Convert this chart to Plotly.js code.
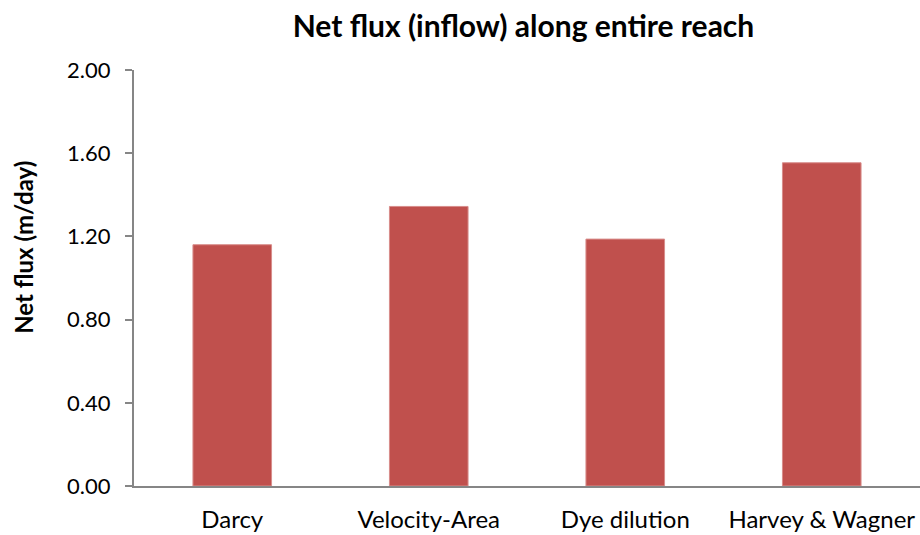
<!DOCTYPE html>
<html>
<head>
<meta charset="utf-8">
<script src="https://cdn.plot.ly/plotly-3.0.1.min.js"></script>
<style>html,body{margin:0;padding:0;background:#fff;}#chart{width:920px;height:535px;}</style>
</head>
<body>
<div id="chart"></div>
<script>
const categories = ["Darcy", "Velocity-Area", "Dye dilution", "Harvey & Wagner"];
const netFlux = [1.16, 1.344, 1.187, 1.554];
const yTicks = [0, 0.4, 0.8, 1.2, 1.6, 2.0];
const yTickLabels = ["0.00", "0.40", "0.80", "1.20", "1.60", "2.00"];
const titleText = "Net flux (inflow) along entire reach";
const yTitleText = "Net flux (m/day)";

const FONT = "Lato, 'Open Sans', sans-serif";

Plotly.newPlot("chart", [{
  type: "bar",
  x: categories,
  y: netFlux,
  marker: {color: "#C0504D", line: {color: "#D88D8B", width: 1}},
  hoverinfo: "x+y"
}], {
  width: 920, height: 535,
  margin: {l: 134, r: 0, t: 70, b: 49},
  paper_bgcolor: "#fff", plot_bgcolor: "#fff",
  bargap: 0.6,
  showlegend: false,
  title: {text: "<b>" + titleText + "</b>", x: 0.569, xanchor: "center", y: 0.95, yanchor: "middle",
          font: {family: FONT, size: 30, color: "#000"}},
  xaxis: {
    type: "category",
    showline: true, linecolor: "#868686", linewidth: 2,
    ticks: "", showgrid: false, zeroline: false,
    tickfont: {family: FONT, size: 24, color: "#000"},
    ticklabelstandoff: 11
  },
  yaxis: {
    range: [0, 2.0],
    tickvals: yTicks, ticktext: yTickLabels,
    showline: true, linecolor: "#868686", linewidth: 2,
    ticks: "outside", ticklen: 7, tickwidth: 2, tickcolor: "#868686",
    showgrid: false, zeroline: false,
    tickfont: {family: FONT, size: 22, color: "#000"},
    ticklabelstandoff: 10
  },
  annotations: [{
    text: "<b>" + yTitleText + "</b>",
    xref: "paper", yref: "paper",
    x: -0.14, y: 0.575, xanchor: "center", yanchor: "middle",
    textangle: -90, showarrow: false,
    font: {family: FONT, size: 24, color: "#000"}
  }]
}, {displayModeBar: false, staticPlot: true});
</script>
</body>
</html>
